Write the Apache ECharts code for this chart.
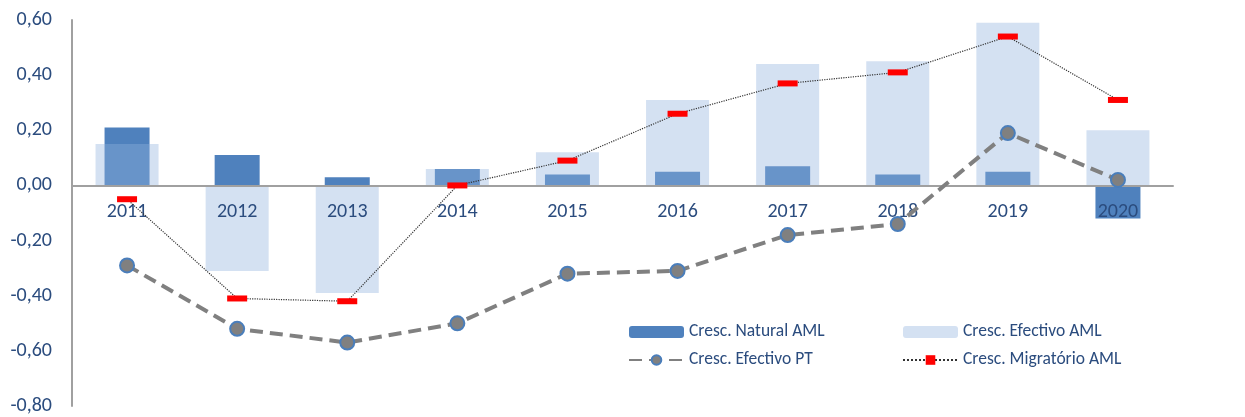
<!DOCTYPE html>
<html>
<head>
<meta charset="utf-8">
<title>Crescimento AML</title>
<script src="https://cdn.jsdelivr.net/npm/echarts@6/dist/echarts.min.js"></script>
<style>
  html, body { margin: 0; padding: 0; background: #fff; }
  #chart { width: 1245px; height: 417px; }
</style>
</head>
<body>
<div id="chart"></div>
<script>
// dados
const anos = ['2011', '2012', '2013', '2014', '2015', '2016', '2017', '2018', '2019', '2020']
const crescNaturalAML = [0.21, 0.11, 0.03, 0.06, 0.04, 0.05, 0.07, 0.04, 0.05, -0.12]
const crescEfectivoAML = [0.15, -0.31, -0.39, 0.06, 0.12, 0.31, 0.44, 0.45, 0.59, 0.20]
const crescEfectivoPT = [-0.29, -0.52, -0.57, -0.50, -0.32, -0.31, -0.18, -0.14, 0.19, 0.02]
const crescMigratorioAML = [-0.05, -0.41, -0.42, 0.00, 0.09, 0.26, 0.37, 0.41, 0.54, 0.31]
const yTicks = { min: -0.8, max: 0.6, interval: 0.2 }

const FONT = 'Carlito, "Liberation Sans Narrow", "Noto Sans", sans-serif'
const TEXT_COLOR = '#2b4c7e'
const AXIS_COLOR = '#a0a0a0'

const grid = { left: 72, right: 72, top: 20, bottom: 11 }
const CHART_H = 417

/* formato pt: 0,20 */
const fmt = v => {
  if (Math.abs(v) < 1e-9) v = 0
  return v.toFixed(2).replace('.', ',')
}

// sobe o eixo x até ao zero (as labels vão junto)
const gridH = CHART_H - grid.top - grid.bottom
const zeroOffset = -gridH * (0 - yTicks.min) / (yTicks.max - yTicks.min)

const legendText = { color: TEXT_COLOR, fontSize: 17.5, fontFamily: FONT }

const option = {
  animation: false,
  textStyle: { fontFamily: FONT },
  grid: Object.assign({ outerBoundsMode: 'none' }, grid),
  legend: [
    {
      data: ['Cresc. Natural AML', 'Cresc. Efectivo PT'],
      orient: 'vertical',
      left: 628,
      top: 323,
      padding: 0,
      itemWidth: 55,
      itemHeight: 12,
      itemGap: 10,
      textStyle: legendText
    },
    {
      data: ['Cresc. Efectivo AML', 'Cresc. Migratório AML'],
      orient: 'vertical',
      left: 902,
      top: 323,
      padding: 0,
      itemWidth: 55,
      itemHeight: 12,
      itemGap: 10,
      textStyle: legendText
    }
  ],
  xAxis: [
    {
      type: 'category',
      data: anos,
      z: 3, //por cima das barras, por baixo das linhas
      position: 'bottom',
      offset: zeroOffset,
      axisLine: { onZero: false, lineStyle: { color: AXIS_COLOR, width: 2 } },
      axisTick: { show: false },
      axisLabel: { color: TEXT_COLOR, fontSize: 20, margin: 17 }
    },
    {
      // eixo escondido só para centrar a barra larga
      type: 'category',
      data: anos,
      show: false,
      position: 'bottom',
      axisLine: { onZero: false }
    }
  ],
  yAxis: {
    type: 'value',
    min: yTicks.min,
    max: yTicks.max,
    interval: yTicks.interval,
    axisLine: { show: true, lineStyle: { color: AXIS_COLOR, width: 2 } },
    axisTick: { show: false },
    splitLine: { show: false },
    axisLabel: { color: TEXT_COLOR, fontSize: 20, margin: 20, formatter: fmt }
  },
  series: [
    {
      name: 'Cresc. Natural AML',
      type: 'bar',
      xAxisIndex: 0,
      barWidth: 45,
      data: crescNaturalAML,
      itemStyle: { color: '#4f81bd' }
    },
    {
      name: 'Cresc. Efectivo AML',
      type: 'bar',
      xAxisIndex: 1,
      barWidth: 63,
      data: crescEfectivoAML,
      itemStyle: { color: 'rgba(144, 177, 221, 0.39)' }
    },
    {
      name: 'Cresc. Efectivo PT',
      type: 'line',
      data: crescEfectivoPT,
      z: 5,
      symbol: 'circle',
      symbolSize: 14,
      lineStyle: { color: '#808080', width: 4, type: [13, 7] },
      itemStyle: { color: '#808080', borderColor: '#4a7ebb', borderWidth: 2 }
    },
    {
      name: 'Cresc. Migratório AML',
      type: 'line',
      data: crescMigratorioAML,
      z: 6,
      symbol: 'rect',
      symbolSize: [20, 6],
      lineStyle: { color: '#333333', width: 1.2, type: 'dotted' },
      itemStyle: { color: '#ff0000' }
    }
  ]
}

const myChart = echarts.init(document.getElementById('chart'))
myChart.setOption(option)
</script>
</body>
</html>
